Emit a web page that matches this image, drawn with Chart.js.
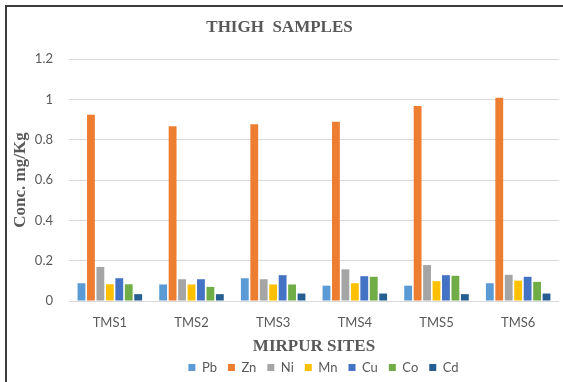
<!DOCTYPE html>
<html>
<head>
<meta charset="utf-8">
<script src="https://cdn.jsdelivr.net/npm/chart.js@4.4.1/dist/chart.umd.min.js"></script>
<style>
  html, body { margin: 0; padding: 0; background: #ffffff; }
  #wrap { position: relative; width: 563px; height: 382px; overflow: hidden; }
  #frame { position: absolute; left: 5px; top: 5px; right: -10px; bottom: -10px;
           border-top: 2px solid #3b3b3b; border-left: 2px solid #3b3b3b; pointer-events: none; }
  canvas { position: absolute; left: 0; top: 0; }
</style>
</head>
<body>
<div id="wrap">
  <canvas id="chart" width="563" height="382"></canvas>
  <div id="frame"></div>
</div>
<script>
// Sampling sites and metal concentrations (mg/Kg) in thigh samples
const sites = ["TMS1", "TMS2", "TMS3", "TMS4", "TMS5", "TMS6"];
const pb = [0.088, 0.082, 0.113, 0.076, 0.076, 0.088];
const zn = [0.924, 0.866, 0.876, 0.889, 0.967, 1.008];
const ni = [0.169, 0.108, 0.108, 0.157, 0.178, 0.130];
const mn = [0.083, 0.082, 0.082, 0.088, 0.098, 0.101];
const cu = [0.113, 0.108, 0.128, 0.123, 0.128, 0.120];
const co = [0.083, 0.070, 0.082, 0.120, 0.125, 0.095];
const cd = [0.034, 0.034, 0.037, 0.037, 0.034, 0.037];
const yTicks = [0, 0.2, 0.4, 0.6, 0.8, 1, 1.2];

const textGrey = "#595959";
const serifBold = { family: "'Liberation Serif', 'Times New Roman', serif", size: 17, weight: "bold", lineHeight: 1 };
const sansTick = { family: "Lato, 'Liberation Sans', sans-serif", size: 13 };

const series = [
  { label: "Pb", data: pb, color: "#5B9BD5" },
  { label: "Zn", data: zn, color: "#ED7D31" },
  { label: "Ni", data: ni, color: "#A5A5A5" },
  { label: "Mn", data: mn, color: "#FFC000" },
  { label: "Cu", data: cu, color: "#4472C4" },
  { label: "Co", data: co, color: "#70AD47" },
  { label: "Cd", data: cd, color: "#255E91" }
];

// Nudges the legend row sideways so it sits under the plot like the original layout
const legendShift = {
  id: "legendShift",
  beforeDraw(chart, args, opts) {
    const lg = chart.legend;
    if (lg && !lg._shifted) {
      lg.left += opts.dx;
      lg.right += opts.dx;
      lg._shifted = true;
    }
  }
};

new Chart(document.getElementById("chart"), {
  type: "bar",
  data: {
    labels: sites,
    datasets: series.map(s => ({
      label: s.label,
      data: s.data,
      backgroundColor: s.color,
      borderWidth: 0,
      categoryPercentage: 0.81,
      barPercentage: 0.83
    }))
  },
  plugins: [legendShift],
  options: {
    responsive: false,
    animation: false,
    layout: { padding: { left: 0, right: 4, top: 0, bottom: -2 } },
    plugins: {
      legendShift: { dx: 44 },
      title: {
        display: true,
        text: "THIGH  SAMPLES",
        color: textGrey,
        font: serifBold,
        padding: { top: 19, bottom: 23 }
      },
      legend: {
        position: "bottom",
        labels: {
          color: textGrey,
          font: { family: "Lato, 'Liberation Sans', sans-serif", size: 13 },
          boxWidth: 7,
          boxHeight: 7,
          padding: 11
        }
      },
      tooltip: { enabled: false }
    },
    scales: {
      x: {
        afterFit: axis => { axis.height = 49; },
        grid: { display: false, drawTicks: false },
        border: { display: false },
        ticks: { color: textGrey, font: sansTick, padding: 14 },
        title: {
          display: true,
          text: "MIRPUR SITES",
          color: textGrey,
          font: serifBold,
          padding: { top: 0, bottom: -5 }
        }
      },
      y: {
        min: 0,
        max: 1.2,
        afterFit: axis => { axis.width = 69; },
        afterBuildTicks: axis => { axis.ticks = yTicks.map(v => ({ value: v })); },
        grid: { color: "#D9D9D9", drawTicks: false, lineWidth: 1 },
        border: { display: false },
        ticks: {
          color: textGrey,
          font: sansTick,
          padding: 16,
          callback: v => String(Math.round(v * 10) / 10)
        },
        title: {
          display: true,
          text: "Conc. mg/Kg",
          color: textGrey,
          font: serifBold,
          padding: { top: 12, bottom: 0 }
        }
      }
    }
  }
});
</script>
</body>
</html>
